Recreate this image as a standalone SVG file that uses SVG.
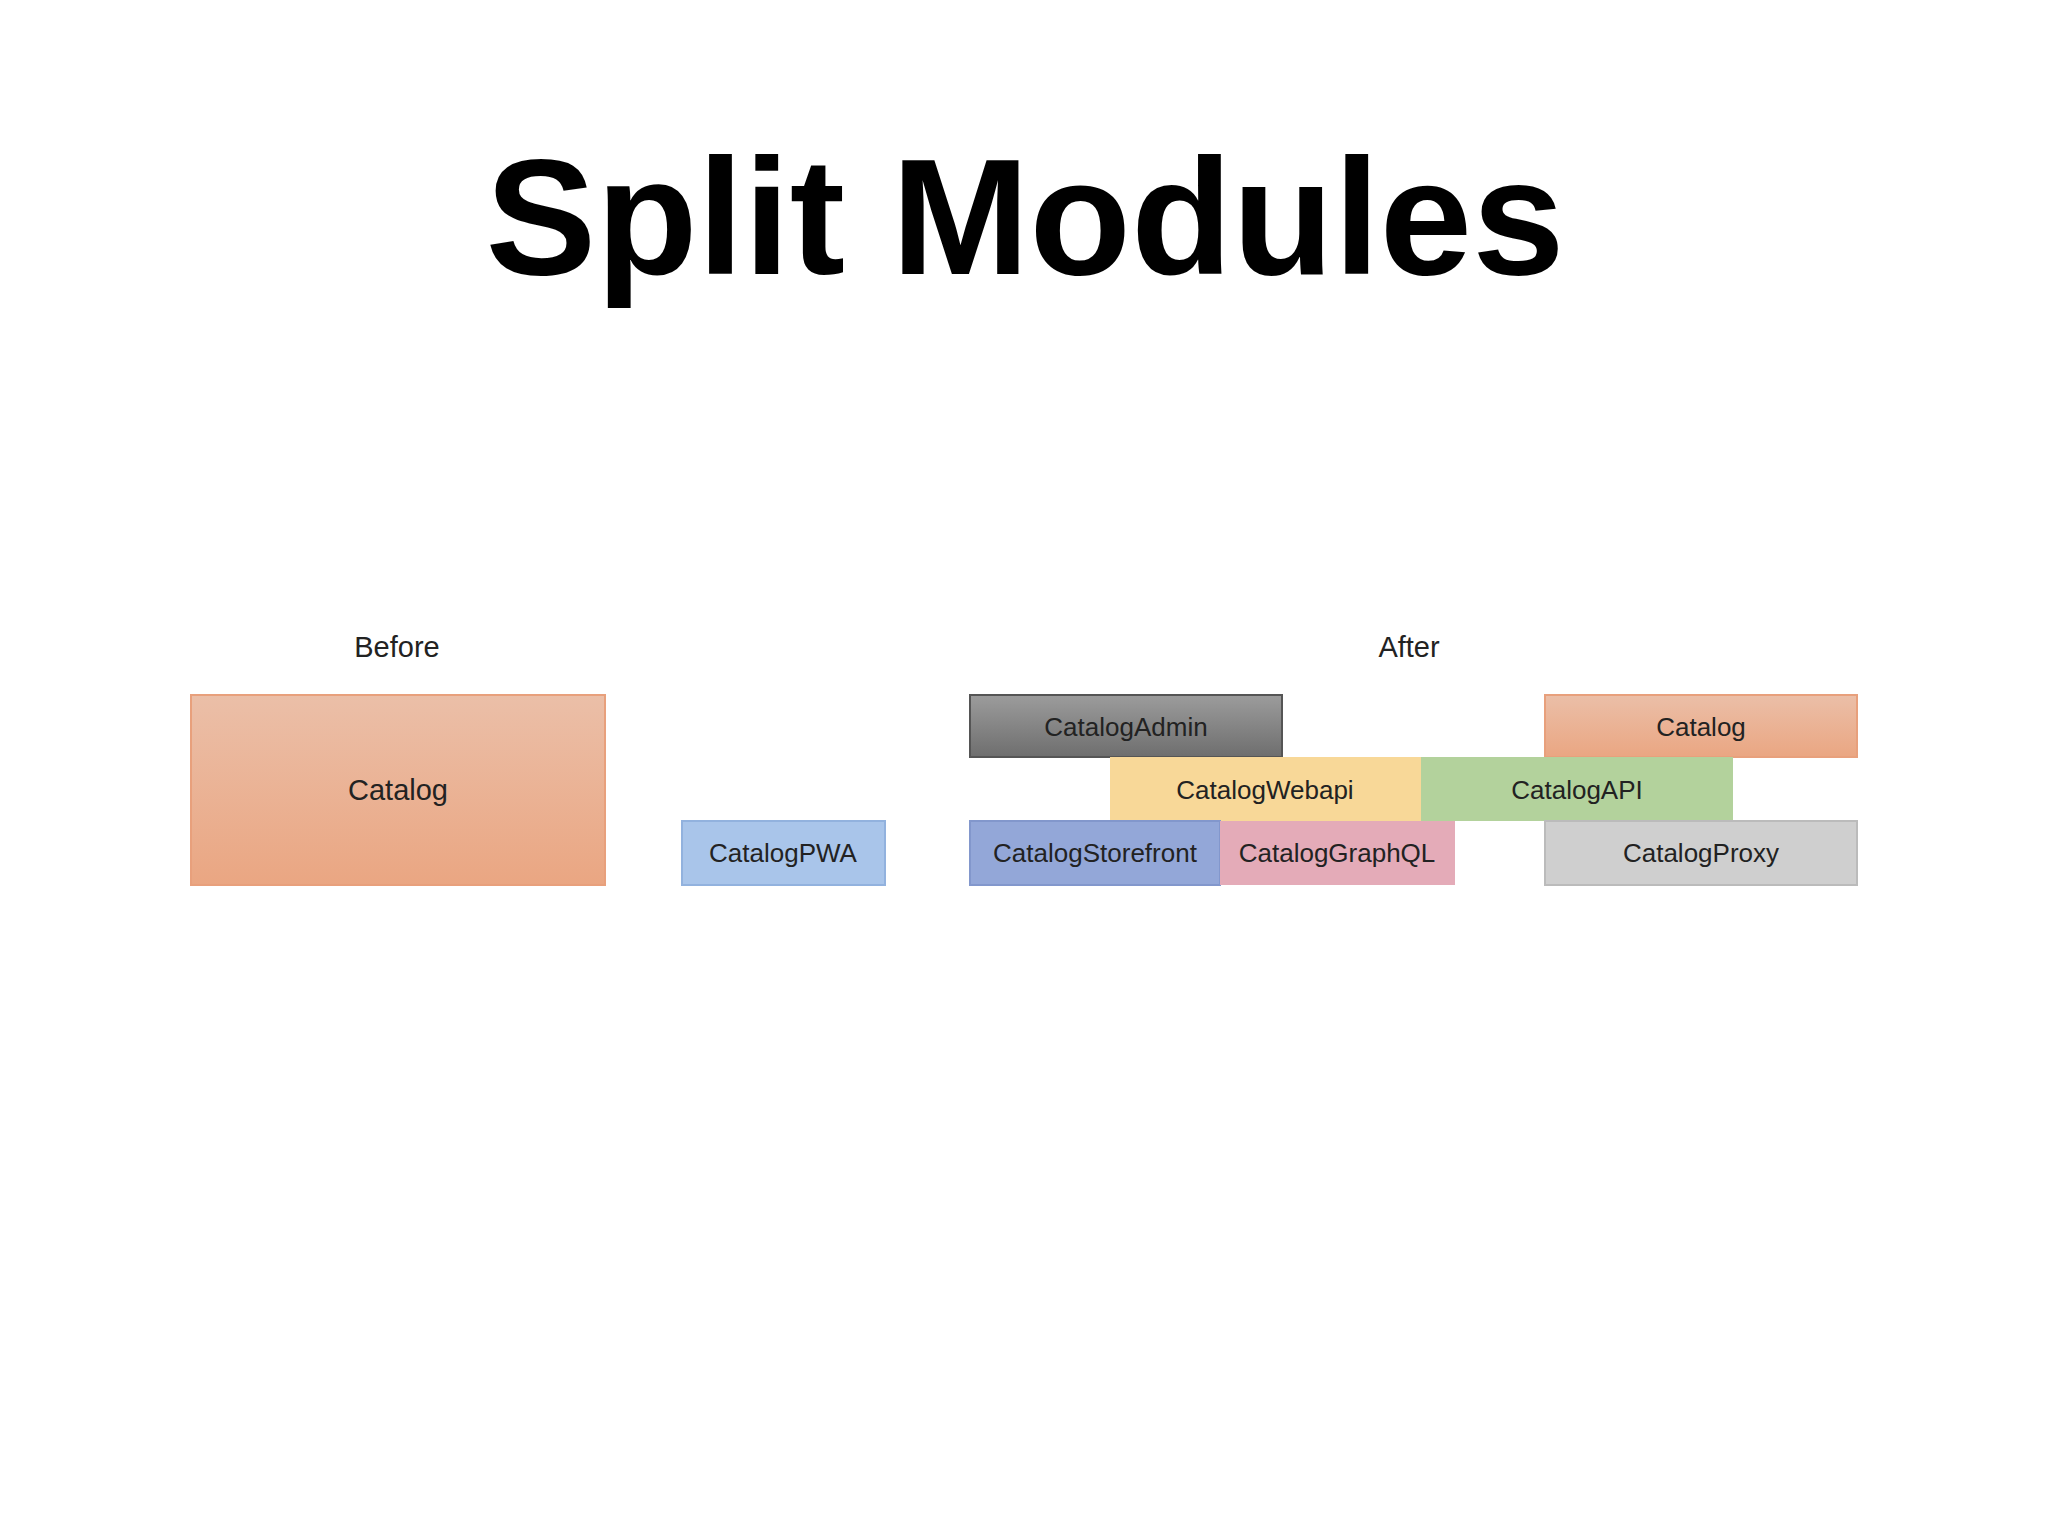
<svg xmlns="http://www.w3.org/2000/svg" width="2048" height="1536" viewBox="0 0 2048 1536">
<style>
.t{font-family:"Liberation Sans",Arial,sans-serif;font-size:26px;fill:#222;text-anchor:middle}
.b{stroke-width:2}
</style>
<defs>
<linearGradient id="sal" x1="0" y1="0" x2="0" y2="1"><stop offset="0" stop-color="#ebbfa8"/><stop offset="1" stop-color="#eaa682"/></linearGradient>
<linearGradient id="gry" x1="0" y1="0" x2="0" y2="1"><stop offset="0" stop-color="#9c9c9c"/><stop offset="1" stop-color="#6e6e6e"/></linearGradient>
</defs>
<rect width="2048" height="1536" fill="#fff"/>
<text x="1025" y="274" font-family="Liberation Sans,Arial,sans-serif" font-weight="bold" font-size="166" text-anchor="middle" fill="#000">Split Modules</text>
<text class="t" x="397" y="657" style="font-size:29px">Before</text>
<text class="t" x="1409" y="657" style="font-size:29px">After</text>
<g id="catalog-before"><rect class="b" x="191" y="695" width="414" height="190" fill="url(#sal)" stroke="#e8a07c"/><text class="t" x="398" y="800" style="font-size:29px">Catalog</text></g>
<g id="pwa"><rect class="b" x="682" y="821" width="203" height="64" fill="#a9c5ea" stroke="#92b2de"/><text class="t" x="783" y="862">CatalogPWA</text></g>
<g id="admin"><rect class="b" x="970" y="695" width="312" height="62" fill="url(#gry)" stroke="#555"/><text class="t" x="1126" y="736">CatalogAdmin</text></g>
<g id="catalog-after"><rect class="b" x="1545" y="695" width="312" height="62" fill="url(#sal)" stroke="#e8a07c"/><text class="t" x="1701" y="736">Catalog</text></g>
<g id="webapi"><rect x="1110" y="757" width="311" height="64" fill="#f8d898"/><text class="t" x="1265" y="799">CatalogWebapi</text></g>
<g id="api"><rect x="1421" y="757" width="312" height="64" fill="#b3d29c"/><text class="t" x="1577" y="799">CatalogAPI</text></g>
<g id="storefront"><rect x="970" y="821" width="250" height="64" fill="#93a7d8" stroke="#8297cc" class="b"/><text class="t" x="1095" y="862">CatalogStorefront</text></g>
<g id="graphql"><rect x="1220" y="821" width="235" height="64" fill="#e4abb8"/><text class="t" x="1337" y="862">CatalogGraphQL</text></g>
<g id="proxy"><rect class="b" x="1545" y="821" width="312" height="64" fill="#cfcfcf" stroke="#bbb"/><text class="t" x="1701" y="862">CatalogProxy</text></g>
<g id="connectors"/>
</svg>
